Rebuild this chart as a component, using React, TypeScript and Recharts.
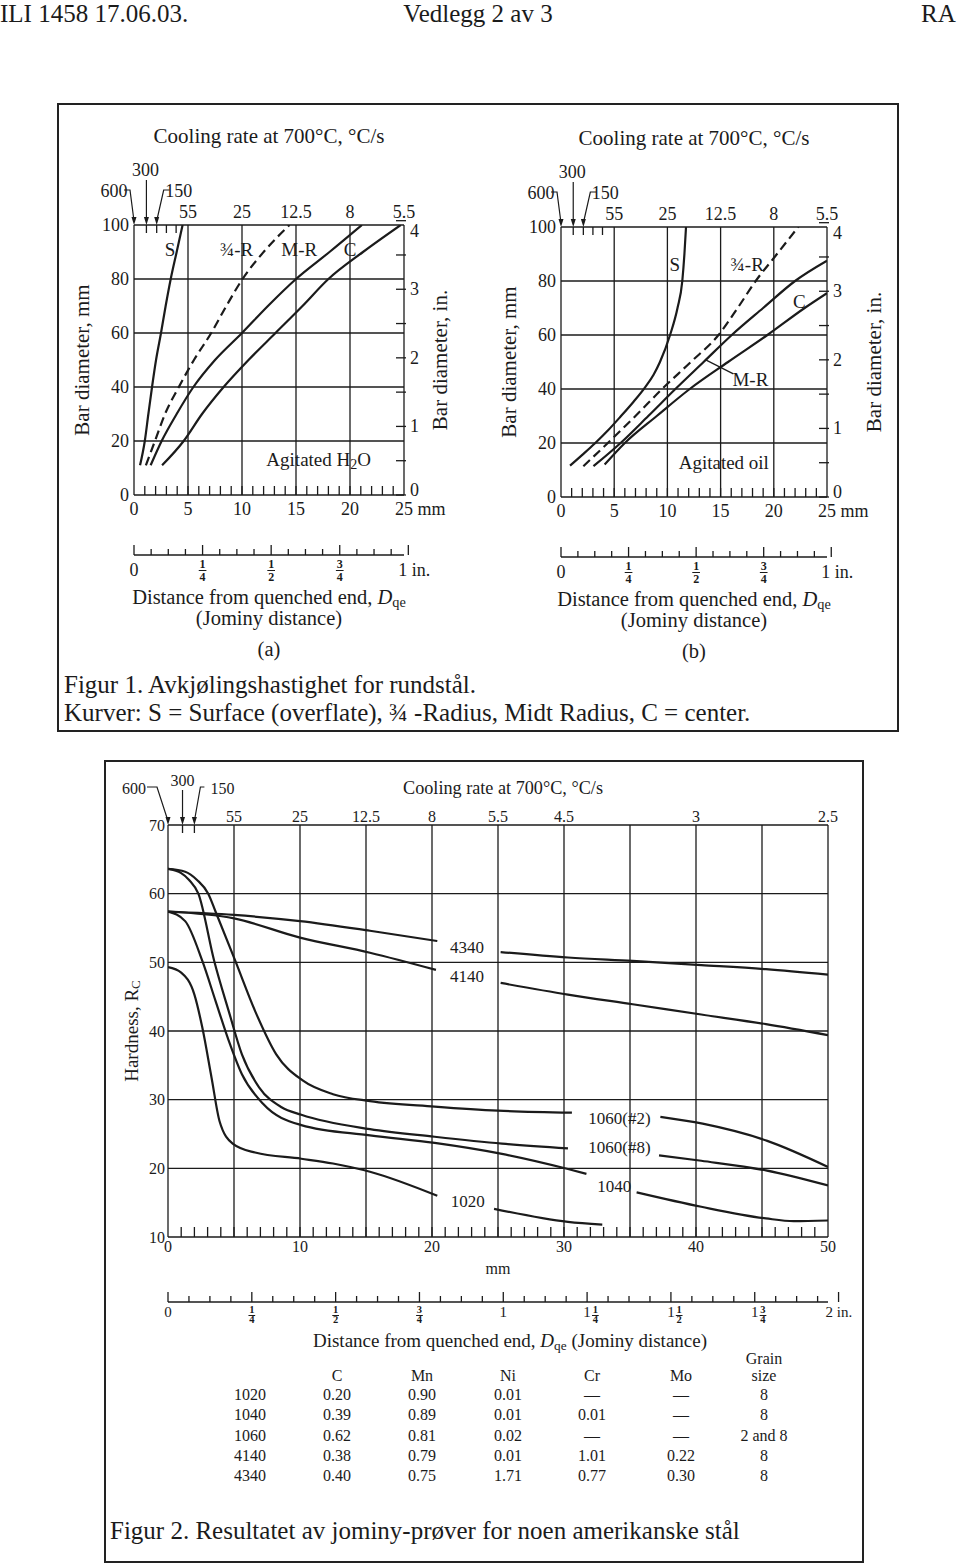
import React from "react";
import {
  LineChart,
  Line,
  XAxis,
  YAxis,
  CartesianGrid,
  ReferenceDot,
  ReferenceLine,
} from "recharts";

const SERIF = '"Liberation Serif", "Times New Roman", serif';
const INK = "#1b1b1b";

// Figur 1 (a) agitated water: [Jominy distance mm, bar diameter mm]
const waterS = [[0.56, 11], [1.0, 20], [1.33, 30], [1.67, 40], [2.04, 50], [2.5, 60], [2.93, 70], [3.4, 80], [3.95, 90], [4.5, 100]];
const waterThreeQ = [[1.1, 11], [1.94, 20], [2.87, 30], [4.15, 40], [5.55, 50], [7.15, 60], [8.55, 70], [10.05, 80], [12.0, 90], [14.4, 100]];
const waterMR = [[1.54, 11], [2.56, 20], [3.95, 30], [5.5, 40], [7.5, 50], [10.0, 60], [12.4, 70], [15.0, 80], [18.1, 90], [21.1, 100]];
const waterC = [[2.6, 11], [4.6, 20], [6.3, 30], [8.3, 40], [10.6, 50], [13.1, 60], [15.6, 70], [18.0, 80], [21.2, 90], [24.7, 100]];

// Figur 1 (b) agitated oil
const oilS = [[0.85, 11.6], [2.0, 15.6], [3.2, 19.9], [4.4, 24.6], [5.6, 29.8], [6.8, 35.2], [7.9, 40.6], [8.7, 45.3], [9.3, 50], [10.25, 60], [10.95, 70], [11.4, 80], [11.6, 90], [11.75, 100]];
const oilThreeQ = [[2.1, 11.4], [4.4, 20], [7.0, 30], [9.5, 40], [12.2, 50], [14.8, 60], [16.6, 70], [18.3, 80], [20.3, 90], [22.3, 100]];
const oilMR = [[3.05, 11.4], [5.6, 20], [8.2, 30], [10.75, 40], [13.4, 50], [16.05, 60], [19.0, 70], [22.0, 80], [25, 87.5]];
const oilC = [[4.1, 12], [6.0, 20], [9.0, 30], [12.1, 40], [15.7, 50], [19.4, 60], [22.9, 70], [25, 75.5]];

// axes of figur 1
const mmTicks = [0, 5, 10, 15, 20, 25];
const mmMinorTicks = Array.from({ length: 24 }, (_, i) => i + 1);
const rateTicks = [5, 10, 15, 20, 25];
const rateLabels = ["55", "25", "12.5", "8", "5.5"];
const fastTicks = [0, 1.15, 2.1, 3.0, 3.9];
const fastLabels = ["600", "300", "150"];
const diaTicks = [0, 20, 40, 60, 80, 100];
const diaInchTicks = [0, 0.5, 1, 1.5, 2, 2.5, 3, 3.5, 4];
const inchTicks1 = Array.from({ length: 17 }, (_, k) => k / 16);
const inchLabels1 = ["0", "1/4", "1/2", "3/4", "1 in."];

// Figur 2 Jominy curves: [distance mm, hardness HRC], null = gap for the label
const j1020 = [[0, 49.3], [1, 48.5], [2, 45.3], [2.6, 40.5], [3.3, 33.2], [3.9, 26.9], [4.9, 23.6], [6.6, 22.3], [10.1, 21.4], [12.5, 20.7], [15.3, 19.5], [20.4, 16.0], [22.5, null], [24.7, 14.1], [30.3, 12.2], [32.9, 11.8]];
const j1040 = [[0, 57.4], [1.3, 56.0], [2.6, 50.2], [3.6, 44.4], [4.6, 38.6], [5.6, 33.7], [7.2, 29.4], [10.1, 26.3], [15.3, 24.8], [20.2, 23.7], [25.3, 22.1], [30.3, 19.9], [31.7, 19.2], [33.5, null], [35.5, 16.5], [40.4, 14.4], [45.3, 12.7], [47.4, 12.3], [50, 12.4]];
const j1060n2 = [[0, 63.6], [1.3, 63.2], [2.2, 62.0], [3.05, 60], [3.6, 57.4], [5.1, 50.2], [6.6, 42.9], [8.2, 36.6], [10.2, 32.8], [12.5, 30.8], [15.3, 29.8], [20.2, 29.0], [25, 28.4], [30.6, 28.1], [34, null], [37.3, 27.5], [40.5, 26.5], [45.4, 24.0], [50, 20.2]];
const j1060n8 = [[0, 63.6], [1.0, 63.0], [1.6, 62.0], [2.3, 60], [3.5, 50.2], [4.6, 42.9], [5.6, 36.6], [6.9, 31.8], [8.6, 28.9], [10.1, 27.8], [15.3, 25.7], [20.2, 24.6], [25.3, 23.6], [30.3, 22.9], [34, null], [37.2, 21.9], [40.4, 21.1], [45.3, 19.7], [50, 17.5]];
const j4140 = [[0, 57.4], [5, 56.4], [10, 53.6], [15.3, 51.4], [20.3, 48.9], [22.5, null], [25.2, 47.0], [30.3, 45.3], [35.2, 43.9], [40.4, 42.4], [45.3, 41.0], [50, 39.4]];
const j4340 = [[0, 57.4], [5, 56.9], [10, 56.0], [15.3, 54.6], [20.4, 53.1], [22.5, null], [25.2, 51.5], [30.3, 50.7], [35.2, 50.2], [40.4, 49.6], [45.3, 49.0], [50, 48.2]];

// axes of figur 2
const jMmTicks = [0, 5, 10, 15, 20, 25, 30, 35, 40, 45, 50];
const jMinorTicks = Array.from({ length: 49 }, (_, i) => i + 1);
const jRateTicks = [5, 10, 15, 20, 25, 30, 40, 50];
const jRateLabels = ["55", "25", "12.5", "8", "5.5", "4.5", "3", "2.5"];
const jFastTicks = [0, 1.1, 2.0];
const hrcTicks = [10, 20, 30, 40, 50, 60, 70];
const inchTicks2 = Array.from({ length: 33 }, (_, k) => k / 16);
const inchLabels2 = ["0", "1/4", "1/2", "3/4", "1", "1 1/4", "1 1/2", "1 3/4", "2 in."];

// composition table
const steels = ["1020", "1040", "1060", "4140", "4340"];
const elements = ["C", "Mn", "Ni", "Cr", "Mo"];
const pctC = ["0.20", "0.39", "0.62", "0.38", "0.40"];
const pctMn = ["0.90", "0.89", "0.81", "0.79", "0.75"];
const pctNi = ["0.01", "0.01", "0.02", "0.01", "1.71"];
const pctCr = ["—", "0.01", "—", "1.01", "0.77"];
const pctMo = ["—", "—", "—", "0.22", "0.30"];
const grainSize = ["8", "8", "2 and 8", "8", "8"];

const pts = (a: (number | null)[][]) => a.map(([x, y]) => ({ x, y }));

const txt = { fontFamily: SERIF, fill: INK };

const note = (content: React.ReactNode, fs: number) => (p: any) => {
  const vb = p.viewBox || {};
  const cx = (vb.x || 0) + (vb.width || 0) / 2;
  const cy = (vb.y || 0) + (vb.height || 0) / 2;
  return (
    <text x={cx} y={cy} textAnchor="middle" dominantBaseline="central" fontSize={fs} {...txt}>
      {content}
    </text>
  );
};

const vTitle = (content: React.ReactNode, fs: number) => (p: any) => {
  const vb = p.viewBox || {};
  const cx = vb.x + vb.width / 2;
  const cy = vb.y + vb.height / 2;
  return (
    <text
      x={cx}
      y={cy}
      transform={`rotate(-90 ${cx} ${cy})`}
      textAnchor="middle"
      dominantBaseline="central"
      fontSize={fs}
      {...txt}
    >
      {content}
    </text>
  );
};

const hTitle = (content: React.ReactNode, fs: number) => (p: any) => {
  const vb = p.viewBox || {};
  return (
    <text x={vb.x + vb.width / 2} y={vb.y + vb.height / 2} textAnchor="middle" dominantBaseline="central" fontSize={fs} {...txt}>
      {content}
    </text>
  );
};

const Dqe = ({ fs }: { fs: number }) => (
  <>
    <tspan fontStyle="italic">D</tspan>
    <tspan fontSize={fs * 0.7} dy={fs * 0.25}>qe</tspan>
  </>
);

// an x axis with no series gets no domain, so each helper axis carries an invisible anchor line
const anchorLine = (id: string, lo: number, hi: number, yv: number) => (
  <Line
    xAxisId={id}
    data={[{ x: lo, y: yv }, { x: hi, y: yv }]}
    dataKey="y"
    stroke="none"
    dot={false}
    activeDot={false}
    legendType="none"
    isAnimationActive={false}
  />
);

function MmTick({ x, y, payload, unitAt, fs }: any) {
  const v = payload.value;
  if (v === unitAt) {
    return (
      <text x={x - fs * 0.5} y={y} dy="0.71em" textAnchor="start" fontSize={fs} {...txt}>
        {v} mm
      </text>
    );
  }
  return (
    <text x={x} y={y} dy="0.71em" textAnchor="middle" fontSize={fs} {...txt}>
      {v}
    </text>
  );
}

function MinorTick({ x, y, len }: any) {
  return <line x1={x} x2={x} y1={y} y2={y + len} stroke={INK} strokeWidth={1.3} />;
}

function InchTick({ x, y, payload, labels, c }: any) {
  const k = Math.round(payload.value * 16);
  const major = k % 4 === 0;
  const s: string | undefined = major ? labels[k / 4] : undefined;
  let label: React.ReactNode = null;
  if (s !== undefined) {
    if (s.endsWith("in.")) {
      label = (
        <text x={x - c.inOff} y={y + c.plainDy} textAnchor="start" fontSize={c.fs} {...txt}>
          {s}
        </text>
      );
    } else {
      const parts = s.split(" ");
      const frac = parts.find((q) => q.includes("/"));
      const whole = parts.find((q) => !q.includes("/"));
      const fx = whole ? x + c.fs * 0.55 : x;
      label = (
        <g>
          {whole && (
            <text x={x} y={y + c.plainDy} textAnchor="middle" fontSize={c.fs} {...txt}>
              {whole}
            </text>
          )}
          {frac && (
            <g>
              <text x={fx} y={y + c.numDy} textAnchor="middle" fontSize={c.fracFs} fontWeight="bold" {...txt}>
                {frac.split("/")[0]}
              </text>
              <line x1={fx - c.fracFs * 0.32} x2={fx + c.fracFs * 0.32} y1={y + c.numDy + 2.5} y2={y + c.numDy + 2.5} stroke={INK} strokeWidth={1} />
              <text x={fx} y={y + c.denDy} textAnchor="middle" fontSize={c.fracFs} fontWeight="bold" {...txt}>
                {frac.split("/")[1]}
              </text>
            </g>
          )}
        </g>
      );
    }
  }
  return (
    <g>
      <line x1={x} x2={x} y1={y} y2={y - (major ? c.major : c.minor)} stroke={INK} strokeWidth={1.3} />
      {label}
    </g>
  );
}

function InchDiaTick({ x, y, payload, fs }: any) {
  const v = payload.value;
  const ly = v === 0 ? y - 5 : v === 4 ? y + 10 : y;
  return (
    <g>
      <line x1={x - 8} x2={x + 2} y1={y} y2={y} stroke={INK} strokeWidth={1.3} />
      {Number.isInteger(v) && (
        <text x={x + 6} y={ly} dominantBaseline="central" textAnchor="start" fontSize={fs} {...txt}>
          {v}
        </text>
      )}
    </g>
  );
}

// 600 / 300 / 150 markers with arrows above the left edge
function FastTick({ x, y, index, labels, geo, fs }: any) {
  const g = geo[index];
  return (
    <g>
      {index > 0 && <line x1={x} x2={x} y1={y} y2={y + 8} stroke={INK} strokeWidth={1.3} />}
      {g && labels[index] && (
        <g>
          <text x={x + g.t[0]} y={y + g.t[1]} textAnchor="middle" dominantBaseline="central" fontSize={fs} {...txt}>
            {labels[index]}
          </text>
          <polyline
            points={g.p.map(([dx, dy]: number[]) => `${x + dx},${y + dy}`).join(" ")}
            fill="none"
            stroke={INK}
            strokeWidth={1.2}
          />
          <polygon points={`${x - 2.5},${y - 8} ${x + 2.5},${y - 8} ${x},${y}`} fill={INK} />
        </g>
      )}
    </g>
  );
}

const geoF1 = [
  { t: [-20, -34], p: [[-10, -35], [-4, -35], [0, -4]] },
  { t: [-1, -55], p: [[0, -45], [0, -4]] },
  { t: [22, -34], p: [[13, -35], [7, -35], [0, -4]] },
];
const geoF2 = [
  { t: [-34, -37], p: [[-21, -38], [-11, -38], [0, -4]] },
  { t: [0, -45], p: [[0, -35], [0, -4]] },
  { t: [28, -37], p: [[10, -38], [6, -38], [0, -4]] },
];

type Curve = { data: (number | null)[][]; dashed?: boolean };
type Note = { x: number; y: number; text: React.ReactNode };

function CoolingPanel({
  left,
  top,
  plotW,
  rightW,
  curves,
  notes,
  tag,
  pointer,
}: {
  left: number;
  top: number;
  plotW: number;
  rightW: number;
  curves: Curve[];
  notes: Note[];
  tag: string;
  pointer?: { x: number; y: number }[];
}) {
  const leftW = 104;
  const topH = 178;
  const plotH = 270;
  const mmH = 60;
  const inchH = 112;
  const fs = 18;
  const inchCfg = { fs, fracFs: 12, plainDy: 21, numDy: 13, denDy: 26, major: 10, minor: 6, inOff: 10 };
  return (
    <div style={{ position: "absolute", left, top }}>
      <LineChart
        width={leftW + plotW + rightW}
        height={topH + plotH + mmH + inchH}
        margin={{ top: 0, right: 0, bottom: 0, left: 0 }}
      >
        <CartesianGrid stroke={INK} strokeWidth={1.3} />
        <XAxis
          dataKey="x"
          type="number"
          domain={[0, 25]}
          allowDataOverflow
          ticks={mmTicks}
          interval={0}
          height={mmH}
          axisLine={false}
          tickLine={false}
          tickSize={0}
          tickMargin={7}
          tick={(p: any) => <MmTick {...p} unitAt={25} fs={fs} />}
        />
        <XAxis
          xAxisId="inch"
          dataKey="x"
          type="number"
          domain={[0, 25 / 25.4]}
          allowDataOverflow
          ticks={inchTicks1}
          interval={0}
          height={inchH}
          axisLine={{ stroke: INK, strokeWidth: 1.5 }}
          tickLine={false}
          tickSize={0}
          tickMargin={0}
          tick={(p: any) => <InchTick {...p} labels={inchLabels1} c={inchCfg} />}
          label={(p: any) => {
            const vb = p.viewBox;
            const cx = vb.x + vb.width / 2;
            return (
              <g>
                <text x={cx} y={vb.y + 42} textAnchor="middle" dominantBaseline="central" fontSize={20.5} {...txt}>
                  Distance from quenched end, <Dqe fs={20.5} />
                </text>
                <text x={cx} y={vb.y + 63} textAnchor="middle" dominantBaseline="central" fontSize={20.5} {...txt}>
                  (Jominy distance)
                </text>
                <text x={cx} y={vb.y + 94} textAnchor="middle" dominantBaseline="central" fontSize={20.5} {...txt}>
                  {tag}
                </text>
              </g>
            );
          }}
        />
        <XAxis
          xAxisId="minor"
          dataKey="x"
          mirror
          type="number"
          domain={[0, 25]}
          allowDataOverflow
          ticks={mmMinorTicks}
          interval={0}
          height={1}
          axisLine={false}
          tickLine={false}
          tickSize={0}
          tickMargin={0}
          tick={(p: any) => <MinorTick {...p} len={-9} />}
        />
        <XAxis
          xAxisId="rate"
          dataKey="x"
          orientation="top"
          type="number"
          domain={[0, 25]}
          allowDataOverflow
          ticks={rateTicks}
          interval={0}
          height={topH}
          axisLine={false}
          tickLine={false}
          tickSize={0}
          tickMargin={7}
          tickFormatter={(v: number) => rateLabels[rateTicks.indexOf(v)]}
          tick={{ fontSize: fs, fill: INK, fontFamily: SERIF }}
          label={hTitle("Cooling rate at 700°C, °C/s", 21)}
        />
        <XAxis
          xAxisId="fast"
          dataKey="x"
          orientation="top"
          mirror
          type="number"
          domain={[0, 25]}
          allowDataOverflow
          ticks={fastTicks}
          interval={0}
          height={1}
          axisLine={false}
          tickLine={false}
          tickSize={0}
          tickMargin={0}
          tick={(p: any) => <FastTick {...p} labels={fastLabels} geo={geoF1} fs={fs} />}
        />
        <YAxis
          type="number"
          domain={[0, 100]}
          allowDataOverflow
          ticks={diaTicks}
          interval={0}
          width={leftW}
          axisLine={false}
          tickLine={false}
          tickSize={0}
          tickMargin={5}
          tick={{ fontSize: fs, fill: INK, fontFamily: SERIF }}
          label={vTitle("Bar diameter, mm", 21)}
        />
        <YAxis
          yAxisId="in"
          orientation="right"
          type="number"
          domain={[0, 100 / 25.4]}
          allowDataOverflow
          ticks={diaInchTicks}
          interval={0}
          width={rightW}
          axisLine={false}
          tickLine={false}
          tickSize={0}
          tickMargin={0}
          tick={(p: any) => <InchDiaTick {...p} fs={fs} />}
          label={vTitle("Bar diameter, in.", 21)}
        />
        {anchorLine("inch", 0, 25 / 25.4, 0)}
        {anchorLine("minor", 0, 25, 0)}
        {anchorLine("rate", 0, 25, 0)}
        {anchorLine("fast", 0, 25, 0)}
        {curves.map((c, i) => (
          <Line
            key={i}
            data={pts(c.data)}
            dataKey="y"
            type="monotone"
            stroke={INK}
            strokeWidth={2.2}
            strokeDasharray={c.dashed ? "9 5" : undefined}
            dot={false}
            activeDot={false}
            isAnimationActive={false}
          />
        ))}
        {notes.map((n, i) => (
          <ReferenceDot key={i} x={n.x} y={n.y} r={1} fill="none" stroke="none" label={note(n.text, 19)} />
        ))}
        {pointer && <ReferenceLine segment={pointer} stroke={INK} strokeWidth={1.2} />}
      </LineChart>
    </div>
  );
}

const H2O = (
  <>
    Agitated H<tspan fontSize={14} dy={5}>2</tspan>
    <tspan dy={-5}>O</tspan>
  </>
);

function JominyChart() {
  const leftW = 74;
  const topH = 74;
  const plotW = 660;
  const plotH = 412;
  const mmH = 65;
  const inchH = 60;
  const fs = 16;
  const inchCfg = { fs: 15, fracFs: 10.5, plainDy: 15, numDy: 11, denDy: 21, major: 10, minor: 6, inOff: 13 };
  const curves = [j1020, j1040, j1060n2, j1060n8, j4140, j4340];
  const notes: Note[] = [
    { x: 22.65, y: 52.2, text: "4340" },
    { x: 22.65, y: 48.0, text: "4140" },
    { x: 34.2, y: 27.2, text: "1060(#2)" },
    { x: 34.2, y: 23.0, text: "1060(#8)" },
    { x: 33.8, y: 17.4, text: "1040" },
    { x: 22.7, y: 15.1, text: "1020" },
  ];
  const jMax = 50 / 25.4;
  return (
    <div style={{ position: "absolute", left: 94, top: 751 }}>
      <LineChart
        width={leftW + plotW + 40}
        height={topH + plotH + mmH + inchH}
        margin={{ top: 0, right: 40, bottom: 0, left: 0 }}
      >
        <CartesianGrid stroke={INK} strokeWidth={1.3} />
        <XAxis
          dataKey="x"
          type="number"
          domain={[0, 50]}
          allowDataOverflow
          ticks={jMmTicks}
          interval={0}
          height={mmH}
          axisLine={false}
          tickLine={false}
          tickSize={0}
          tickMargin={4}
          tickFormatter={(v: number) => (v % 10 === 0 ? String(v) : "")}
          tick={{ fontSize: fs, fill: INK, fontFamily: SERIF }}
          label={(p: any) => {
            const vb = p.viewBox;
            return (
              <text x={vb.x + vb.width / 2} y={vb.y + 31} textAnchor="middle" dominantBaseline="central" fontSize={fs} {...txt}>
                mm
              </text>
            );
          }}
        />
        <XAxis
          xAxisId="inch"
          dataKey="x"
          type="number"
          domain={[0, jMax]}
          allowDataOverflow
          ticks={inchTicks2}
          interval={0}
          height={inchH}
          axisLine={{ stroke: INK, strokeWidth: 1.5 }}
          tickLine={false}
          tickSize={0}
          tickMargin={0}
          tick={(p: any) => <InchTick {...p} labels={inchLabels2} c={inchCfg} />}
          label={(p: any) => {
            const vb = p.viewBox;
            return (
              <text x={vb.x + vb.width / 2 + 12} y={vb.y + 38} textAnchor="middle" dominantBaseline="central" fontSize={19} {...txt}>
                Distance from quenched end, <Dqe fs={19} />
                <tspan dy={-19 * 0.25}> (Jominy distance)</tspan>
              </text>
            );
          }}
        />
        <XAxis
          xAxisId="minor"
          dataKey="x"
          mirror
          type="number"
          domain={[0, 50]}
          allowDataOverflow
          ticks={jMinorTicks}
          interval={0}
          height={1}
          axisLine={false}
          tickLine={false}
          tickSize={0}
          tickMargin={0}
          tick={(p: any) => <MinorTick {...p} len={-10} />}
        />
        <XAxis
          xAxisId="rate"
          dataKey="x"
          orientation="top"
          type="number"
          domain={[0, 50]}
          allowDataOverflow
          ticks={jRateTicks}
          interval={0}
          height={topH}
          axisLine={false}
          tickLine={false}
          tickSize={0}
          tickMargin={3}
          tickFormatter={(v: number) => jRateLabels[jRateTicks.indexOf(v)]}
          tick={{ fontSize: fs, fill: INK, fontFamily: SERIF }}
          label={(p: any) => {
            const vb = p.viewBox;
            return (
              <text x={vb.x + vb.width / 2 + 5} y={vb.y + 37} textAnchor="middle" dominantBaseline="central" fontSize={18.2} {...txt}>
                Cooling rate at 700°C, °C/s
              </text>
            );
          }}
        />
        <XAxis
          xAxisId="fast"
          dataKey="x"
          orientation="top"
          mirror
          type="number"
          domain={[0, 50]}
          allowDataOverflow
          ticks={jFastTicks}
          interval={0}
          height={1}
          axisLine={false}
          tickLine={false}
          tickSize={0}
          tickMargin={0}
          tick={(p: any) => <FastTick {...p} labels={fastLabels} geo={geoF2} fs={fs} />}
        />
        <YAxis
          type="number"
          domain={[10, 70]}
          allowDataOverflow
          ticks={hrcTicks}
          interval={0}
          width={leftW}
          axisLine={false}
          tickLine={false}
          tickSize={0}
          tickMargin={3}
          tick={{ fontSize: fs, fill: INK, fontFamily: SERIF }}
          label={vTitle(
            <>
              Hardness, R<tspan fontSize={13} dy={4}>C</tspan>
            </>,
            19
          )}
        />
        {anchorLine("inch", 0, jMax, 10)}
        {anchorLine("minor", 0, 50, 10)}
        {anchorLine("rate", 0, 50, 10)}
        {anchorLine("fast", 0, 50, 10)}
        {curves.map((c, i) => (
          <Line
            key={i}
            data={pts(c)}
            dataKey="y"
            type="monotone"
            stroke={INK}
            strokeWidth={2.2}
            dot={false}
            activeDot={false}
            isAnimationActive={false}
          />
        ))}
        {notes.map((n, i) => (
          <ReferenceDot key={i} x={n.x} y={n.y} r={1} fill="none" stroke="none" label={note(n.text, 17)} />
        ))}
      </LineChart>
    </div>
  );
}

function CompositionTable() {
  const colX = [250, 337, 422, 508, 592, 681, 764];
  const rowY = [1395, 1415, 1436, 1456, 1476];
  const columns = [steels, pctC, pctMn, pctNi, pctCr, pctMo, grainSize];
  const cell = (x: number, y: number, s: string, key: string) => (
    <div
      key={key}
      style={{
        position: "absolute",
        left: x,
        top: y,
        transform: "translate(-50%, -50%)",
        whiteSpace: "nowrap",
        fontFamily: SERIF,
        fontSize: 16,
        lineHeight: "18px",
        color: INK,
      }}
    >
      {s}
    </div>
  );
  return (
    <>
      {elements.map((e, i) => cell(colX[i + 1], 1376, e, "h" + i))}
      {cell(colX[6], 1359, "Grain", "g1")}
      {cell(colX[6], 1376, "size", "g2")}
      {columns.map((col, ci) => col.map((s, ri) => cell(colX[ci], rowY[ri], s, `${ci}-${ri}`)))}
    </>
  );
}

const abs = (left: number, top: number, extra: React.CSSProperties = {}): React.CSSProperties => ({
  position: "absolute",
  left,
  top,
  whiteSpace: "nowrap",
  fontFamily: SERIF,
  color: INK,
  ...extra,
});

export default function App() {
  return (
    <div style={{ position: "absolute", left: 0, top: 0, width: 960, height: 1564, background: "#fff", overflow: "hidden" }}>
      <div style={abs(0, 1, { fontSize: 25, lineHeight: "25px" })}>ILI 1458 17.06.03.</div>
      <div style={abs(0, 1, { fontSize: 25, lineHeight: "25px", width: 956, textAlign: "center" })}>Vedlegg 2 av 3</div>
      <div style={abs(921, 1, { fontSize: 25, lineHeight: "25px" })}>RA</div>

      <div
        style={{
          position: "absolute",
          left: 57,
          top: 103,
          width: 842,
          height: 629,
          border: "2px solid #222",
          boxSizing: "border-box",
        }}
      />
      <CoolingPanel
        left={30}
        top={47}
        plotW={270}
        rightW={72}
        tag="(a)"
        curves={[
          { data: waterS },
          { data: waterThreeQ, dashed: true },
          { data: waterMR },
          { data: waterC },
        ]}
        notes={[
          { x: 3.33, y: 91, text: "S" },
          { x: 9.5, y: 91, text: "¾-R" },
          { x: 15.3, y: 91, text: "M-R" },
          { x: 20, y: 91, text: "C" },
          { x: 17.1, y: 13.3, text: H2O },
        ]}
      />
      <CoolingPanel
        left={457}
        top={49}
        plotW={266}
        rightW={94}
        tag="(b)"
        curves={[
          { data: oilS },
          { data: oilThreeQ, dashed: true },
          { data: oilMR },
          { data: oilC },
        ]}
        notes={[
          { x: 10.7, y: 86, text: "S" },
          { x: 17.5, y: 86, text: "¾-R" },
          { x: 22.4, y: 72.4, text: "C" },
          { x: 17.8, y: 43.5, text: "M-R" },
          { x: 15.3, y: 12.8, text: "Agitated oil" },
        ]}
        pointer={[
          { x: 13.6, y: 50.8 },
          { x: 16.2, y: 45.6 },
        ]}
      />
      <div style={abs(64, 671, { fontSize: 25 })}>Figur 1. Avkjølingshastighet for rundstål.</div>
      <div style={abs(64, 699, { fontSize: 25 })}>
        Kurver: S = Surface (overflate), ¾ -Radius, Midt Radius, C = center.
      </div>

      <div
        style={{
          position: "absolute",
          left: 104,
          top: 760,
          width: 760,
          height: 803,
          border: "2px solid #222",
          boxSizing: "border-box",
        }}
      />
      <JominyChart />
      <CompositionTable />
      <div style={abs(110, 1517, { fontSize: 25 })}>Figur 2. Resultatet av jominy-prøver for noen amerikanske stål</div>
    </div>
  );
}
